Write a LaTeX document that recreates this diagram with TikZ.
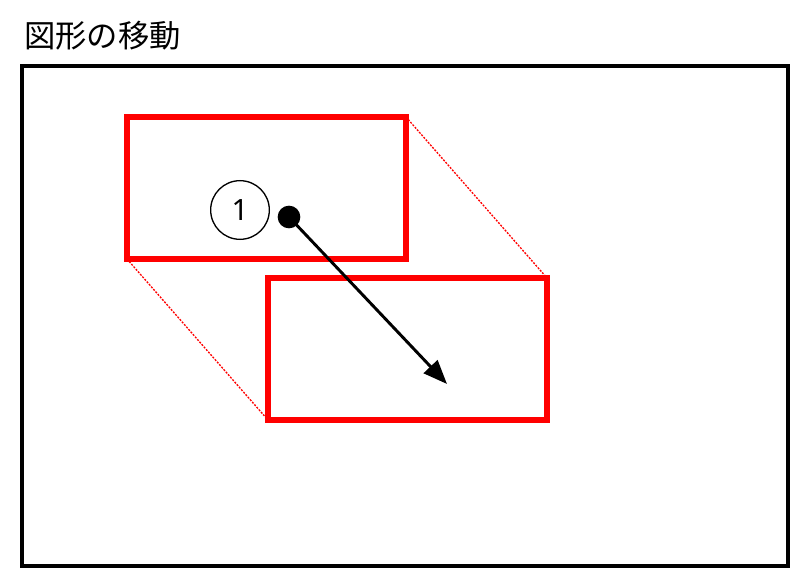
\documentclass[tikz,border=0pt]{standalone}
\usepackage{fontspec}
\newfontfamily\cjk{Noto Sans CJK JP}
\setmainfont{Noto Sans}
\usetikzlibrary{arrows.meta}
\begin{document}
\begin{tikzpicture}[x=0.75pt,y=-0.75pt,
  frame/.style={draw=black,line width=3pt},
  shapebox/.style={draw=red,line width=3.8pt},
  guide/.style={draw=red,line width=1pt,dash pattern=on 1.5pt off 1pt},
  mover/.style={draw=black,line width=2.2pt,-{Triangle[length=18pt,width=14pt]}},
  numcircle/.style={circle,draw=black,line width=1pt,minimum size=44pt,inner sep=0pt,font=\fontsize{22}{24}\selectfont}]
\useasboundingbox (0,0) rectangle (799,577);
\node[anchor=base west,inner sep=0pt,font=\cjk\fontsize{23.5}{26}\selectfont] (title) at (24,48) {図形の移動};
\draw[frame] (22,66) rectangle (788,566);
\coordinate (a1) at (127,117); \coordinate (a2) at (406,117);
\coordinate (a3) at (406,259); \coordinate (a4) at (127,259);
\coordinate (b1) at (268,278); \coordinate (b2) at (547,278);
\coordinate (b3) at (547,420); \coordinate (b4) at (268,420);
\draw[guide] (a2) -- (b2);
\draw[guide] (a4) -- (b4);
\draw[shapebox] (a1) rectangle (a3);
\draw[shapebox] (b1) rectangle (b3);
\node[numcircle] (one) at (240,210) {1};
\coordinate (start) at (289,217);
\coordinate (endpt) at (447,384);
\draw[mover] (start) -- (endpt);
\fill[black] (start) circle (8.5pt);
\end{tikzpicture}
\end{document}
